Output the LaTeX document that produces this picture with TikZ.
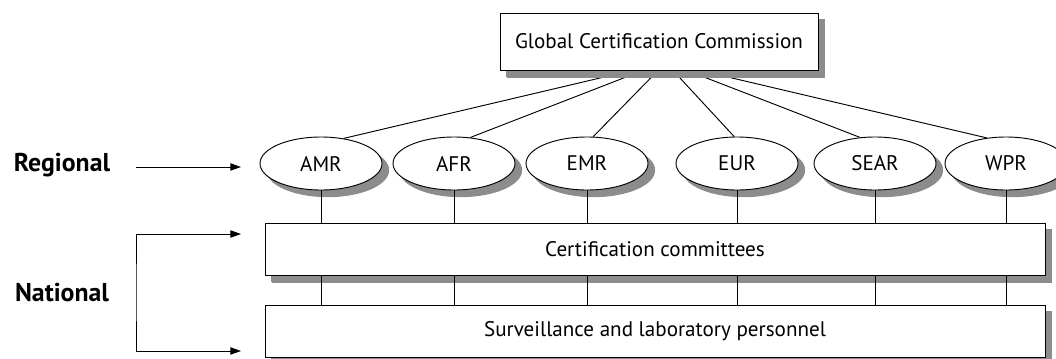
\documentclass[tikz,border=0pt]{standalone}
\usepackage{fontspec}
\setmainfont{PT Sans}
\usetikzlibrary{shapes.geometric,arrows.meta,backgrounds}

\definecolor{shadowgray}{gray}{0.55}
\tikzset{
  castshadow/.style={preaction={fill=shadowgray,draw=shadowgray,line width=0.8pt,
    transform canvas={xshift=2mm,yshift=-2mm}}},
  orgbox/.style={rectangle,draw,fill=white,line width=0.8pt,castshadow,inner sep=0pt,font=\fontsize{18}{20}\selectfont},
  region/.style={ellipse,draw,fill=white,line width=0.8pt,castshadow,inner sep=0pt,
    minimum width=3.66cm,minimum height=1.59cm,font=\fontsize{18}{20}\selectfont},
  boxshadow/.style={fill=shadowgray},
  link/.style={line width=0.8pt},
  pointer/.style={line width=0.8pt,-{Triangle[length=3.2mm,width=2.2mm]}},
  level/.style={font=\fontsize{22}{24}\selectfont\bfseries}
}

\begin{document}
\begin{tikzpicture}[x=0.03cm,y=-0.03cm]
  \useasboundingbox (0,0) rectangle (1056,358);

  % Top
  \node[orgbox,minimum width=9.54cm,minimum height=1.71cm] (gcc) at (659,41.5) {Global Certification Commission};

  % Regions
  \foreach \name/\x in {AMR/321, AFR/454, EMR/587, EUR/737, SEAR/875, WPR/1006} {
    \node[region] (\name) at (\x,163.5) {\name};
  }

  % National boxes
  \node[orgbox,minimum width=23.4cm,minimum height=1.56cm] (cert) at (655,249) {Certification committees};
  \node[orgbox,minimum width=23.4cm,minimum height=1.56cm] (surv) at (655,331) {Surveillance and laboratory personnel};

  % Lines from the commission
  \begin{scope}[on background layer]
    \foreach \name/\dx/\ang in {AMR/-27/48, AFR/-16/58, EMR/-1/77, EUR/14/96, SEAR/28/120, WPR/41/127} {
      \draw[link] ([xshift=\dx*0.03cm]gcc.south) -- (\name.\ang);
    }
  \end{scope}

  % Box shadows (bottom and right strips)
  \fill[boxshadow] (507,71) rectangle (825,78);
  \fill[boxshadow] (819,20) rectangle (825,78);
  \fill[boxshadow] (272,276) rectangle (1052,283);
  \fill[boxshadow] (1046,230) rectangle (1052,283);
  \fill[boxshadow] (1046,312) rectangle (1052,358);

  % Vertical links
  \foreach \name in {AMR, AFR, EMR, EUR, SEAR, WPR} {
    \draw[link] (\name.south) -- (cert.north -| \name);
    \draw[link] (cert.south -| \name) -- (surv.north -| \name);
  }

  % Levels
  \node[level] (regional) at (62,165) {Regional};
  \coordinate (regStart) at (136,167);
  \coordinate (regEnd) at (241,167);
  \draw[pointer] (regStart) -- (regEnd);

  \node[level] (national) at (62,293) {National};
  \coordinate (natTop) at (241,234);
  \coordinate (natBot) at (241,351);
  \draw[line width=0.8pt,{Triangle[length=3.2mm,width=2.2mm]}-{Triangle[length=3.2mm,width=2.2mm]}]
    (natTop) -| (136,292) |- (natBot);
\end{tikzpicture}
\end{document}
